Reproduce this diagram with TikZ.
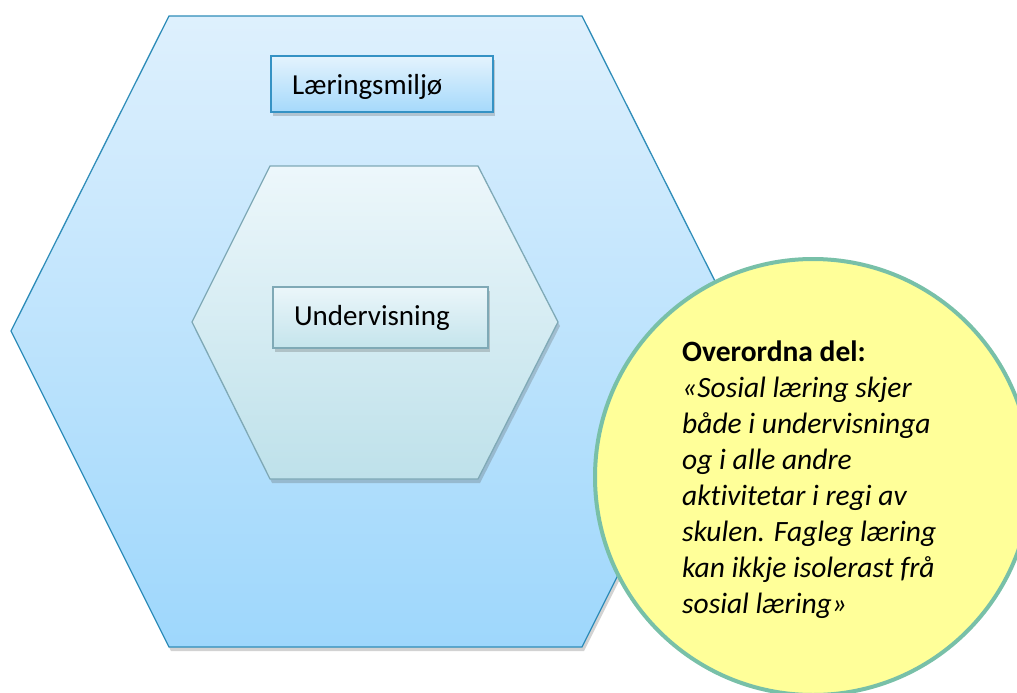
\documentclass[tikz,border=0pt]{standalone}
\usepackage{fontspec}
\setmainfont{Carlito}[Ligatures={TeX,NoCommon}]
\usetikzlibrary{shadows}
\definecolor{outerTop}{HTML}{DEF0FD}
\definecolor{outerBot}{HTML}{9ED7FC}
\definecolor{outerLine}{HTML}{2F8DB9}
\definecolor{innerTop}{HTML}{EDF7FB}
\definecolor{innerBot}{HTML}{BEE1EA}
\definecolor{innerLine}{HTML}{7FA9B6}
\definecolor{lmTop}{HTML}{E4F3FD}
\definecolor{lmBot}{HTML}{A5D9FB}
\definecolor{lmLine}{HTML}{3592C4}
\definecolor{unTop}{HTML}{EBF6FA}
\definecolor{unBot}{HTML}{C4E4EC}
\definecolor{circFill}{HTML}{FFFF99}
\definecolor{circLine}{HTML}{78C0A8}
\tikzset{
  softshadow/.style={drop shadow={shadow xshift=2pt, shadow yshift=-4pt, opacity=0.25, fill=black!70}},
  outerhex/.style={draw=outerLine, line width=1.3pt, top color=outerTop, bottom color=outerBot, softshadow},
  innerhex/.style={draw=innerLine, line width=1.3pt, top color=innerTop, bottom color=innerBot, softshadow},
  labelbox/.style={rectangle, line width=1.6pt, inner sep=0pt, align=left, font=\fontsize{29}{32}\selectfont, softshadow},
}
\begin{document}
\begin{tikzpicture}[x=1pt,y=-1pt]
\useasboundingbox (0,0) rectangle (1017,693);
% outer hexagon
\path[outerhex] (169,16) -- (582,16) -- (740,331) -- (582,647) -- (169,647) -- (11,331) -- cycle;
% inner hexagon
\path[innerhex] (270,166) -- (478,166) -- (558,322) -- (478,479) -- (270,479) -- (192,322) -- cycle;
% label boxes
\node[labelbox, draw=lmLine, top color=lmTop, bottom color=lmBot, minimum width=222pt, minimum height=56pt, text width=180pt, text height=24pt, text depth=2pt] (lm) at (382,84) {Læringsmiljø};
\node[labelbox, draw=innerLine, top color=unTop, bottom color=unBot, minimum width=215pt, minimum height=61pt, text width=173pt, text height=20pt, text depth=5pt] (un) at (380.5,317.5) {Undervisning};
% circle
\node[circle, draw=circLine, line width=4pt, fill=circFill, minimum size=436pt, inner sep=0pt] (circ) at (813,477) {};
\node[anchor=north west, align=left, inner sep=0pt, font=\fontsize{29.5}{36}\selectfont] (quote) at (682,341)
  {\textbf{Overordna del:}\\
   \textit{«Sosial læring skjer}\\
   \textit{både i undervisninga}\\
   \textit{og i alle andre}\\
   \textit{aktivitetar i regi av}\\
   \textit{skulen. Fagleg læring}\\
   \textit{kan ikkje isolerast frå}\\
   \textit{sosial læring»}};
\end{tikzpicture}
\end{document}
